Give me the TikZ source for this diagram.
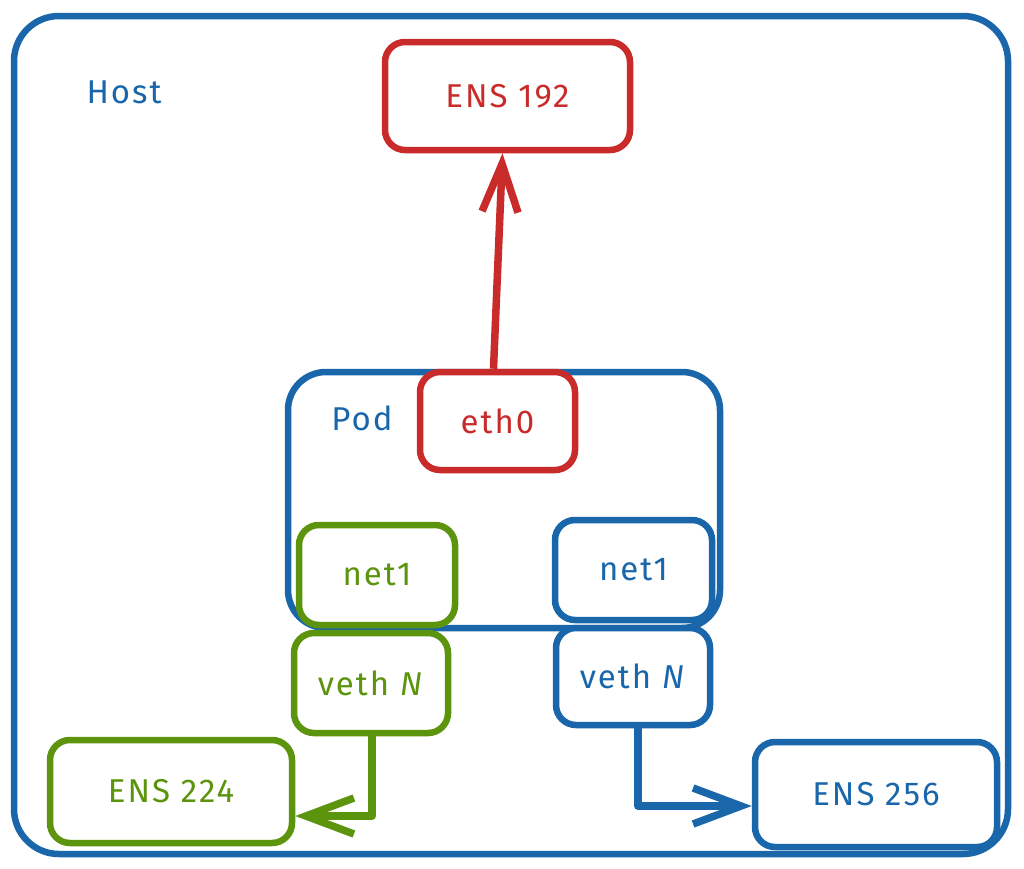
\documentclass[tikz,border=0pt]{standalone}
\usepackage{fontspec}
\setmainfont{Fira Sans}[LetterSpace=6]
\usetikzlibrary{arrows.meta}
\definecolor{xblue}{RGB}{25,103,170}
\definecolor{xred}{RGB}{201,42,42}
\definecolor{xgreen}{RGB}{92,148,13}
\tikzset{
  box/.style={draw=#1, text=#1, line width=6.5pt, rounded corners=20pt, fill=white, inner sep=0pt,
    font=\fontsize{33}{38}\selectfont},
  bigbox/.style={draw=#1, line width=6.5pt, inner sep=0pt},
  lbl/.style={text=#1, font=\fontsize{33}{38}\selectfont, inner sep=0pt},
  conn/.style={draw=#1, line width=7.5pt, line join=round,
    -{Straight Barb[length=48pt,width=36pt,line width=7.5pt]}},
}
\begin{document}
\begin{tikzpicture}[x=1pt,y=-1pt]
\useasboundingbox (0,0) rectangle (1024,868);
\fill[white] (0,0) rectangle (1024,868);
% Host
\node[bigbox=xblue, minimum width=994pt, minimum height=838pt, rounded corners=45pt] (host) at (511,435) {};
\node[lbl=xblue] (hostlbl) at (124,92) {Host};
% Pod
\node[bigbox=xblue, minimum width=432pt, minimum height=256pt, rounded corners=38pt] (pod) at (504,500) {};
\node[lbl=xblue] (podlbl) at (362,418) {Pod};
% boxes
\node[box=xred, minimum width=245pt, minimum height=108pt] (ens192) at (507.5,96) {ENS 192};
\node[box=xred, minimum width=155pt, minimum height=98pt] (eth0) at (497.5,421) {eth0};
\node[box=xgreen, minimum width=156pt, minimum height=100pt] (net1g) at (377,575) {net1};
\node[box=xblue, minimum width=157pt, minimum height=100pt] (net1b) at (633.5,570) {net1};
\node[box=xgreen, minimum width=154pt, minimum height=100pt] (vethg) at (371,683) {veth \textit{N}};
\node[box=xblue, minimum width=154pt, minimum height=97pt] (vethb) at (633,676.5) {veth \textit{N}};
\node[box=xgreen, minimum width=242pt, minimum height=103pt] (ens224) at (171,791.5) {ENS 224};
\node[box=xblue, minimum width=242pt, minimum height=105pt] (ens256) at (876,794.5) {ENS 256};
% connectors
\draw[conn=xred] ([xshift=-4pt]eth0.north) -- ([xshift=-5pt]ens192.south);
\coordinate (gbend) at (372,816);
\draw[conn=xgreen] (vethg.south -| gbend) -- (gbend) -- (gbend -| ens224.east);
\coordinate (bbend) at (638,806);
\draw[conn=xblue] (vethb.south -| bbend) -- (bbend) -- (bbend -| ens256.west);
\end{tikzpicture}
\end{document}
